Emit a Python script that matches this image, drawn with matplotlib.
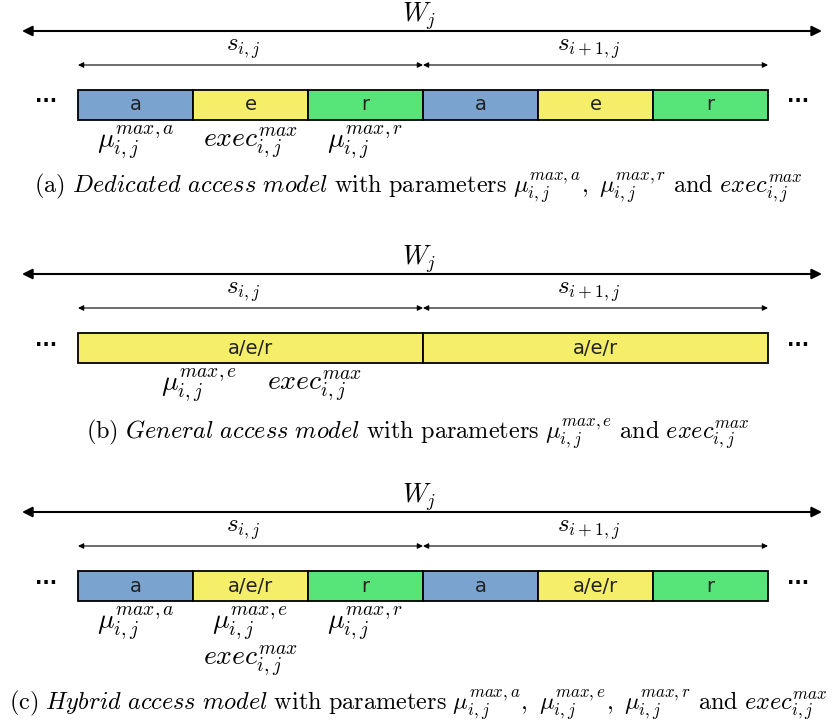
import matplotlib.pyplot as plt
from matplotlib.patches import Rectangle

plt.rcParams['mathtext.fontset'] = 'cm'

# segments of one slot per panel (label, colour key, length)
seg_a = ["a", "e", "r"]
seg_b = ["a/e/r"]
seg_c = ["a", "a/e/r", "r"]
len_a = [1, 1, 1]
len_b = [3]
len_c = [1, 1, 1]
col_a = ["acq", "exe", "rep"]
col_b = ["exe"]
col_c = ["acq", "exe", "rep"]
slots = [r"$s_{i,j}$", r"$s_{i+1,j}$"]

# parameter labels under the first slot: (position in segment units, row, text)
par_a = [(0, 0, r"$\mu_{i,j}^{max,a}$"), (1, 0, r"$exec_{i,j}^{max}$"), (2, 0, r"$\mu_{i,j}^{max,r}$")]
par_b = [(0.55, 0, r"$\mu_{i,j}^{max,e}$"), (1.56, 0, r"$exec_{i,j}^{max}$")]
par_c = [(0, 0, r"$\mu_{i,j}^{max,a}$"), (1, 0, r"$\mu_{i,j}^{max,e}$"), (2, 0, r"$\mu_{i,j}^{max,r}$"),
         (1, 1, r"$exec_{i,j}^{max}$")]

captions = [
    r"$\mathrm{(a)}\ \mathit{Dedicated\ access\ model}\ \mathrm{with\ parameters}\ \mu_{i,j}^{max,a},\ \mu_{i,j}^{max,r}\ \mathrm{and}\ exec_{i,j}^{max}$",
    r"$\mathrm{(b)}\ \mathit{General\ access\ model}\ \mathrm{with\ parameters}\ \mu_{i,j}^{max,e}\ \mathrm{and}\ exec_{i,j}^{max}$",
    r"$\mathrm{(c)}\ \mathit{Hybrid\ access\ model}\ \mathrm{with\ parameters}\ \mu_{i,j}^{max,a},\ \mu_{i,j}^{max,e},\ \mu_{i,j}^{max,r}\ \mathrm{and}\ exec_{i,j}^{max}$",
]

colores = {"acq": "#7ba3d0", "exe": "#f5ee68", "rep": "#57e57a"}

fig = plt.figure(figsize=(8.32, 7.27), dpi=100)
ax = fig.add_axes([0, 0, 1, 1])
ax.set_xlim(0, 832)
ax.set_ylim(727, 0)
ax.axis("off")

x0, x1 = 78, 768
unit = (x1 - x0) / 6


def panel(top, segs, lens, cols, pars, cap, cap_y):
    # W_j arrow
    ax.annotate("", xy=(22, top + 31), xytext=(822, top + 31),
                arrowprops=dict(arrowstyle="<|-|>", lw=1.5, color="black", mutation_scale=15,
                                shrinkA=0, shrinkB=0))
    ax.text(419, top + 16, r"$W_j$", fontsize=19, ha="center", va="center")
    # slot arrows
    slot_len = sum(lens) * unit
    for k, lab in enumerate(slots):
        xa = x0 + k * slot_len
        ax.annotate("", xy=(xa, top + 65), xytext=(xa + slot_len, top + 65),
                    arrowprops=dict(arrowstyle="<|-|>", lw=0.8, color="black", mutation_scale=8,
                                    shrinkA=0, shrinkB=0))
        ax.text(xa + slot_len / 2 - 7, top + 49, lab, fontsize=18, ha="center", va="center")
    # bar
    yb = top + 90
    x = x0
    for k in range(2):
        for s, l, c in zip(segs, lens, cols):
            w = l * unit
            ax.add_patch(Rectangle((x, yb), w, 30, facecolor=colores[c], edgecolor="black", lw=1.3))
            ax.text(x + w / 2, yb + 15, s, fontsize=14, ha="center", va="center", color="#222222")
            x += w
    ax.text(46, yb + 12, "···", fontsize=14, ha="center", va="center", fontweight="bold")
    ax.text(798, yb + 12, "···", fontsize=14, ha="center", va="center", fontweight="bold")
    # parameters
    for idx, row, t in pars:
        xc = x0 + (idx + 0.5) * unit
        ax.text(xc, yb + 53 + row * 37, t, fontsize=20, ha="center", va="center")
    ax.text(418, cap_y, cap, fontsize=17.5, ha="center", va="center")


panel(0, seg_a, len_a, col_a, par_a, captions[0], 188)
panel(243, seg_b, len_b, col_b, par_b, captions[1], 434)
panel(481, seg_c, len_c, col_c, par_c, captions[2], 705)

fig.savefig("out.png", dpi=100)
